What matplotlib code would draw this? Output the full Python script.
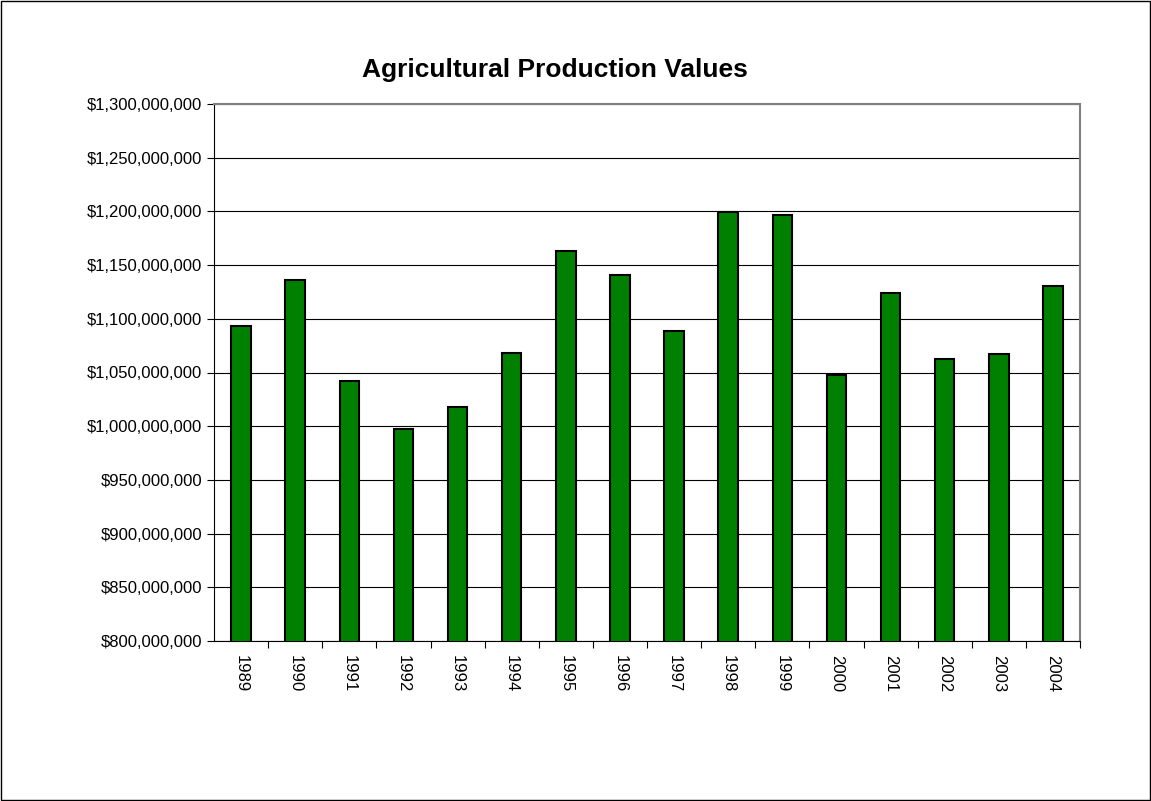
import matplotlib.pyplot as plt
from matplotlib.patches import Rectangle
from matplotlib.ticker import FuncFormatter, MultipleLocator

plt.rcParams['font.family'] = ['Liberation Sans', 'DejaVu Sans']

years = [str(y) for y in range(1989, 2005)]
values = [1093, 1136, 1042, 997, 1018, 1068, 1163, 1141,
          1089, 1199, 1197, 1048, 1124, 1063, 1067, 1131]
values = [v * 1e6 for v in values]

fig = plt.figure(figsize=(11.51, 8.01), dpi=100)
fig.patches.append(Rectangle((0.001, 0.001), 0.998, 0.998, transform=fig.transFigure,
                             fill=False, edgecolor='black', linewidth=1))
ax = fig.add_axes([214 / 1151, 1 - 641 / 801, (1080 - 214) / 1151, (641 - 104) / 801])

x = range(len(years))
ax.bar(x, values, width=0.36, color='#008000', edgecolor='black', linewidth=1.5, zorder=3)
ax.set_xlim(-0.5, len(years) - 0.5)
ax.set_ylim(800e6, 1300e6)
ax.yaxis.set_major_locator(MultipleLocator(50e6))
ax.yaxis.set_major_formatter(FuncFormatter(lambda v, p: f"${v:,.0f}"))
ax.set_xticks([i + 0.5 for i in range(len(years))], minor=False)
ax.set_xticklabels([])
ax.set_xticks(list(x), minor=True)
ax.set_xticklabels(years, minor=True, rotation=-90, fontsize=12)
ax.tick_params(axis='x', which='minor', length=0, pad=10)
ax.tick_params(axis='x', which='major', length=5, direction='out')
ax.tick_params(axis='y', labelsize=12, length=5, direction='out')
ax.grid(axis='y', color='black', linewidth=0.8, zorder=0)
for s in ['top', 'right']:
    ax.spines[s].set_color('#808080')
    ax.spines[s].set_linewidth(1.5)
fig.text(555 / 1151, 1 - 70 / 801, 'Agricultural Production Values', fontsize=19,
         fontweight='bold', ha='center', va='center')

fig.savefig('out.png', dpi=100)
